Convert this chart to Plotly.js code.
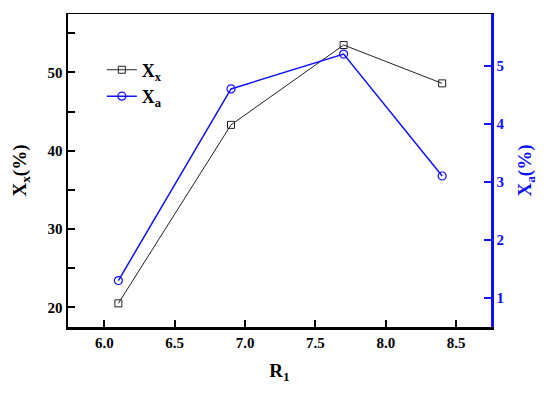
<!DOCTYPE html>
<html><head><meta charset="utf-8">
<script src="https://cdn.plot.ly/plotly-3.0.1.min.js"></script>
<style>body{margin:0}#c{width:550px;height:396px}</style>
</head><body><div id="c"></div>
<script>
var r1 = [6.1, 6.9, 7.7, 8.4];
var xx = [20.5, 43.3, 53.5, 48.6];
var xa = [1.3, 4.6, 5.2, 3.1];
var xTicks = [6.0, 6.5, 7.0, 7.5, 8.0, 8.5];
var xTickText = ['6.0', '6.5', '7.0', '7.5', '8.0', '8.5'];
var yTicks = [20, 30, 40, 50];
var yTickText = ['20', '30', '40', '50'];
var y2Ticks = [1, 2, 3, 4, 5];
var y2TickText = ['1', '2', '3', '4', '5'];

function bold(a) { return a.map(function (s) { return '<b>' + s + '</b>'; }); }

var F = 'Liberation Serif, Times New Roman, serif';
var traces = [
  {x: r1, y: xx, name: '<b>X<sub>x</sub></b>', mode: 'lines+markers', yaxis: 'y',
   line: {color: '#222', width: 1},
   marker: {symbol: 'square-open', size: 7, color: '#222', line: {width: 1}}},
  {x: r1, y: xa, name: '<b>X<sub>a</sub></b>', mode: 'lines+markers', yaxis: 'y2',
   line: {color: '#1010ff', width: 1.5},
   marker: {symbol: 'circle-open', size: 8, color: '#1010ff', line: {width: 1.2}}}
];
var layout = {
  width: 550, height: 396,
  margin: {l: 68, r: 59, t: 14, b: 69},
  paper_bgcolor: '#fff', plot_bgcolor: '#fff',
  font: {family: F, size: 13, color: '#000'},
  showlegend: true,
  legend: {x: 0.08, y: 0.88, xanchor: 'left', yanchor: 'top', bgcolor: 'rgba(0,0,0,0)',
    font: {family: F, size: 18}, tracegroupgap: 0, itemwidth: 30},
  xaxis: {range: [5.742, 8.747], tickvals: xTicks, ticktext: bold(xTickText),
    ticks: 'inside', ticklen: 7, tickwidth: 2, tickcolor: '#000',
    showline: true, linewidth: 2.5, linecolor: '#000', mirror: false,
    showgrid: false, zeroline: false,
    tickfont: {family: F, size: 15, color: '#000'},
    title: {text: '<b>R<sub>1</sub></b>', font: {family: F, size: 19}, standoff: 14}},
  xaxis2: {overlaying: 'x', side: 'top', range: [5.742, 8.747], showticklabels: false,
    showline: true, linewidth: 1.5, linecolor: '#000', ticks: '', showgrid: false, zeroline: false},
  yaxis: {range: [17.48, 57.46], tickvals: yTicks, ticktext: bold(yTickText),
    ticks: 'inside', ticklen: 7, tickwidth: 2, tickcolor: '#000',
    minor: {tickvals: [25, 35, 45, 55], ticks: 'inside', ticklen: 7, tickwidth: 2, tickcolor: '#000'},
    showline: true, linewidth: 2.5, linecolor: '#000',
    showgrid: false, zeroline: false,
    tickfont: {family: F, size: 15, color: '#000'},
    title: {text: '<b>X<sub>x</sub>(%)</b>', font: {family: F, size: 19}, standoff: 16}},
  yaxis2: {overlaying: 'y', side: 'right', range: [0.5, 5.89], tickvals: y2Ticks, ticktext: bold(y2TickText),
    ticks: 'inside', ticklen: 7, tickwidth: 2, tickcolor: '#1010ff',
    showline: true, linewidth: 2.5, linecolor: '#1010ff',
    showgrid: false, zeroline: false,
    tickfont: {family: F, size: 15, color: '#1010ff'},
    title: {text: '<b>X<sub>a</sub>(%)</b>', font: {family: F, size: 19, color: '#1010ff'}, standoff: 14}}
};
traces.push({x: [6], y: [30], xaxis: 'x2', yaxis: 'y', mode: 'markers', marker: {opacity: 0}, showlegend: false, hoverinfo: 'skip'});
Plotly.newPlot('c', traces, layout, {staticPlot: true});
</script></body></html>
